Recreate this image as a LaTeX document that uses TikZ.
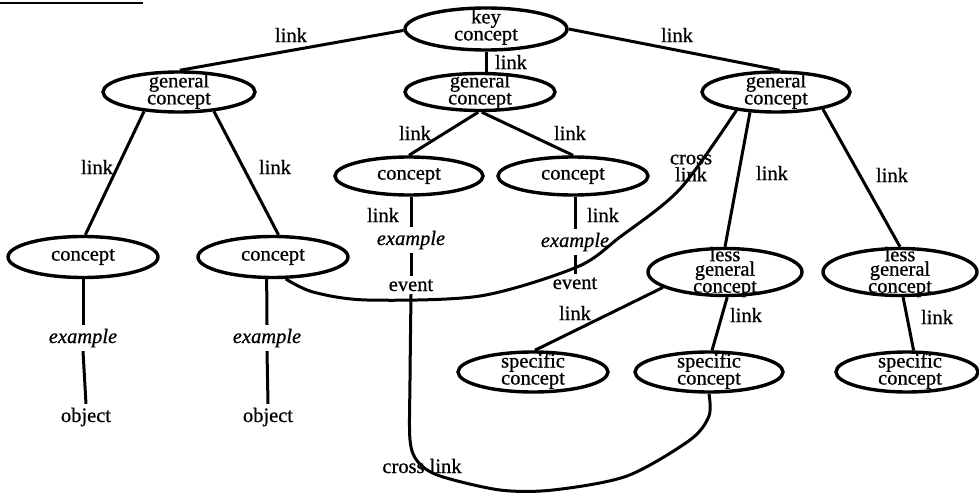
\documentclass[tikz,border=0pt]{standalone}
\usepackage{fontspec}
\setmainfont{Liberation Serif}[UprightFeatures={FakeBold=0.7}, ItalicFeatures={FakeBold=0.7}]
\usetikzlibrary{shapes.geometric}
\begin{document}
\begin{tikzpicture}[x=1pt,y=-1pt,
  bubble/.style={ellipse, draw, line width=3.4pt, inner sep=0pt},
  wire/.style={line width=3pt, line join=round},
  txt/.style={font=\fontsize{20.5}{17}\selectfont, align=center, inner sep=0pt},
  tight/.style={font=\fontsize{20.5}{14.5}\selectfont, align=center, inner sep=0pt},
  tag/.style={font=\fontsize{20.5}{17}\selectfont, inner sep=0pt},
  eg/.style={font=\fontsize{20.5}{17}\selectfont\itshape, inner sep=4pt, text height=14pt, text depth=4pt},
  obj/.style={font=\fontsize{20.5}{17}\selectfont, inner sep=4pt, text height=14pt, text depth=4pt},
  evt/.style={font=\fontsize{20.5}{17}\selectfont, inner sep=3pt, text height=12pt, text depth=0pt}]
\useasboundingbox (0,0) rectangle (979,494);

% heading rule at the top edge
\draw[line width=2.5pt] (0,3) -- (143,3);

% concept bubbles
\node[bubble, minimum width=162pt, minimum height=42pt] (kc) at (486,29) {};
\node[bubble, minimum width=152pt, minimum height=40pt] (gc1) at (179,92) {};
\node[bubble, minimum width=150pt, minimum height=37pt] (gc2) at (480,92) {};
\node[bubble, minimum width=148pt, minimum height=40pt] (gc3) at (776,92) {};
\node[bubble, minimum width=150pt, minimum height=41pt] (c1) at (83,257) {};
\node[bubble, minimum width=150pt, minimum height=41pt] (c2) at (273,257) {};
\node[bubble, minimum width=148pt, minimum height=38pt] (mc1) at (409,176) {};
\node[bubble, minimum width=150pt, minimum height=38pt] (mc2) at (573,176) {};
\node[bubble, minimum width=154pt, minimum height=47pt] (lgc1) at (725,272) {};
\node[bubble, minimum width=154pt, minimum height=47pt] (lgc2) at (900,272) {};
\node[bubble, minimum width=150pt, minimum height=40pt] (sc1) at (533,372) {};
\node[bubble, minimum width=148pt, minimum height=40pt] (sc2) at (709,372) {};
\node[bubble, minimum width=142pt, minimum height=40pt] (sc3) at (907,372) {};

% bubble texts
\node[txt] at ([yshift=2pt]kc) {key\\concept};
\node[txt] at ([yshift=1pt]gc1) {general\\concept};
\node[txt] at ([yshift=1pt]gc2) {general\\concept};
\node[txt] at ([yshift=1pt]gc3) {general\\concept};
\node[txt] at (c1) {concept};
\node[txt] at (c2) {concept};
\node[txt] at (mc1) {concept};
\node[txt] at (mc2) {concept};
\node[tight] at (lgc1) {less\\general\\concept};
\node[tight] at (lgc2) {less\\general\\concept};
\node[txt] at ([yshift=1pt]sc1) {specific\\concept};
\node[txt] at ([yshift=1pt]sc2) {specific\\concept};
\node[txt] at ([xshift=3pt,yshift=1pt]sc3) {specific\\concept};

% examples, objects and events
\node[eg] (ex1) at (83,338) {example};
\node[obj] (ob1) at (86,417) {object};
\node[eg] (ex2) at (267,338) {example};
\node[obj] (ob2) at (268,417) {object};
\node[eg] (ex3) at (411,240) {example};
\node[evt] (ev1) at (411,285) {event};
\node[eg] (ex4) at (575,242) {example};
\node[evt] (ev2) at (575,283) {event};

% tree links
\draw[wire] (kc.181) -- (gc1.88);
\draw[wire] (kc.0) -- (gc3.80);
\draw[wire] (kc.south) -- (kc.south |- gc2.north);
\draw[wire] (gc1.209) -- (c1.84);
\draw[wire] (gc1.331) -- (c2.76);
\draw[wire] (gc2.265) -- (mc1.north);
\draw[wire] (gc2.275) -- (mc2.north);
\draw[wire] (gc3.218) -- (lgc1.north);
\draw[wire] (gc3.340) -- (lgc2.north);
\draw[wire] (lgc1.194) -- (sc1.85);
\draw[wire] (lgc1.275) -- (sc2.82);
\draw[wire] (lgc2.277) -- (sc3.73);

% example chains
\draw[wire] (c1.south) -- (ex1.north);
\draw[wire] (ex1.south) -- (ob1.north);
\draw[wire] (c2.254) -- (ex2.north);
\draw[wire] (ex2.south) -- (ob2.north);
\draw[wire] (ex3.north |- mc1.south) -- (ex3.north);
\draw[wire] (ex3.south) -- (ev1.north);
\draw[wire] (ex4.north |- mc2.south) -- (ex4.north);
\draw[wire] (ex4.south) -- (ev2.north);

% cross links
\draw[wire] plot[smooth, tension=0.5] coordinates
  {(c2.300) (313,292) (367,300) (480,296) (577,267) (620,237) (680,189) (gc3.205)};
\draw[wire] plot[smooth, tension=0.5] coordinates
  {(ev1.south) (410,380) (410,440) (418,462) (440,476) (500,490) (553,490) (627,476) (690,440) (709,416) (sc2.south)};

% link labels
\node[tag] at (291,35) {link};
\node[tag] at (677,35) {link};
\node[tag] at (511,62) {link};
\node[tag] at (97,167) {link};
\node[tag] at (275,167) {link};
\node[tag] at (415,133) {link};
\node[tag] at (570,133) {link};
\node[tag] at (383,215) {link};
\node[tag] at (603,215) {link};
\node[tag] at (772,173) {link};
\node[tag] at (892,175) {link};
\node[txt] at (691,168) {cross\\link};
\node[tag] at (575,313) {link};
\node[tag] at (746,315) {link};
\node[tag] at (937,317) {link};
\node[tag] at (422,466) {cross link};
\end{tikzpicture}
\end{document}
